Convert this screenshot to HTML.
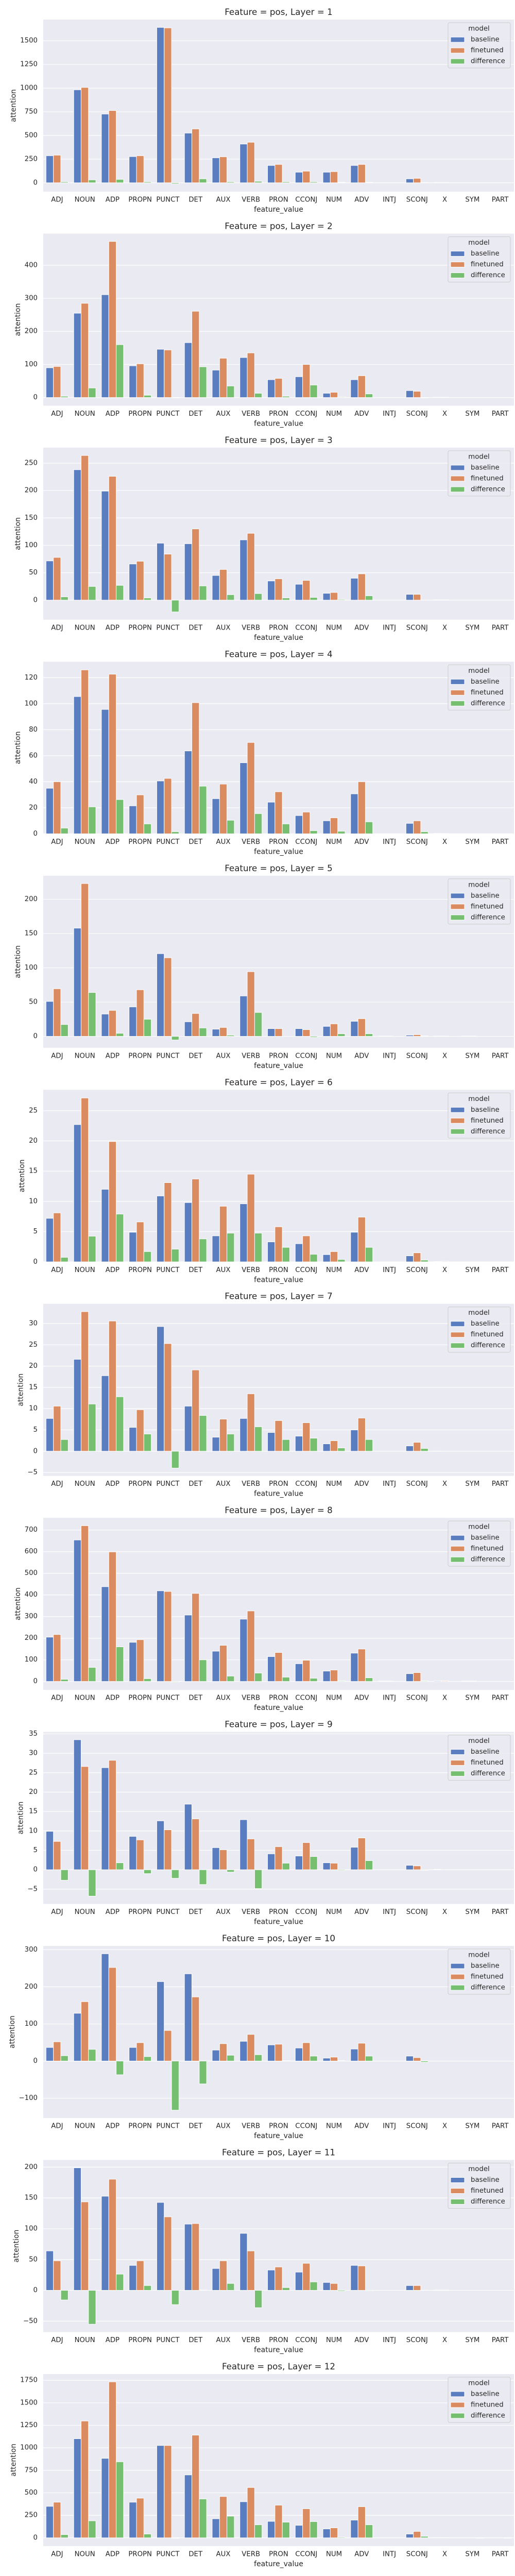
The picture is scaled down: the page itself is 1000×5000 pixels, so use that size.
<!DOCTYPE html>
<html><head><meta charset="utf-8">
<style>
html,body{margin:0;padding:0;background:#fff;}
svg{display:block;font-family:"DejaVu Sans","Liberation Sans",sans-serif;}
</style></head>
<body>
<svg id="fig" width="1000" height="5000" viewBox="0 0 1000 5000" xmlns="http://www.w3.org/2000/svg"></svg>
<script>
const categories = ["ADJ","NOUN","ADP","PROPN","PUNCT","DET","AUX","VERB","PRON","CCONJ","NUM","ADV","INTJ","SCONJ","X","SYM","PART"];
const seriesNames = ["baseline","finetuned","difference"];
const layers = [1,2,3,4,5,6,7,8,9,10,11,12];
const baseline = [
 [286,982,726,277,1641,525,264,409,183,112,112,183,0,42,3,0,0],
 [90,255,311,96,146,166,83,121,54,63,13,54,0,21,1,0,0],
 [71.6,238,199,66,104,103,45,110,35,29,12.5,40,0,10.6,0.5,0,0],
 [35,105.5,95.6,21.5,40.6,63.7,27,54.6,24.3,14,10,30.7,0,8,0.3,0,0],
 [51,158,32.6,43,120.7,21.3,10.5,59,11.3,11.3,14.6,22,0.5,1.8,0.5,0.5,0],
 [7.2,22.7,12.0,4.9,10.9,9.8,4.3,9.6,3.3,3.0,1.2,4.9,0,1.0,0.05,0,0],
 [7.7,21.6,17.75,5.6,29.3,10.6,3.3,7.7,4.4,3.55,1.74,5.0,0,1.25,0.05,0,0],
 [205,654,438,181,419,307,140,288,115,82,48,131,2,36,3,2,0],
 [9.9,33.5,26.3,8.6,12.6,16.9,5.7,12.9,4.1,3.55,1.8,5.8,0,1.15,0.1,0,0],
 [36.6,128.7,289,36.6,214,235,29.6,53.2,43.5,35.2,7.9,32.4,0,13.4,0,0,0],
 [64,198.9,152.8,40.5,142.7,107.5,35.5,92.5,33,29.6,12.8,40.5,0,7.8,0.5,0,0],
 [350,1101,883,396,1026,699,212,401,183,139,99,197,0,42,3,0,0]
];
const finetuned = [
 [292,1007,763,286,1636,569,275,428,194,123,118,194,0,47,3,0,0],
 [94,285,472,102,144,261,119,135,58,100,16,66,0,19,1,0,0],
 [78,264,226,71,84,130,56,122,39,36,14,48,0,10.6,0.5,0,0],
 [40,126,122.7,29.9,42.6,100.8,38.2,70.2,32.3,16.7,12.3,40,0,10,0.2,0,0],
 [69.5,223,37.9,68,114.7,33.4,13,94.4,11.3,9.8,18.3,25.8,0.5,2.5,0.5,0.5,0],
 [8.1,27.1,19.9,6.6,13.1,13.7,9.2,14.5,5.8,4.3,1.7,7.4,0,1.5,0.1,0,0],
 [10.6,32.8,30.6,9.75,25.3,19.1,7.55,13.5,7.2,6.7,2.47,7.8,0,2.1,0,0,0],
 [217,720,599,193,416,407,167,326,134,98,53,150,2,41,3,2,0],
 [7.3,26.6,28.2,7.7,10.3,13.1,5.15,7.95,5.95,7.0,1.7,8.2,0,1.0,0,0,0],
 [51.9,160,252,49.5,82.4,172.7,46.8,71.8,45.4,49.5,10.6,48.1,0,9.3,0,0,0],
 [48,143.6,180.4,48,119.3,108.4,48,64,38,43.9,11.2,39.7,0,7.8,0.5,0,0],
 [396,1298,1733,441,1026,1141,459,559,363,323,111,346,0,71,2,0,0]
];
const difference = [
 [11,31,36,11,-11,42,11,16,11,11,5,5,0,3,0,0,0],
 [4,29,160,7,-1,93,35,13,4,38,2,11,0,-1,0,0,0],
 [6,25,27,4,-21.5,26,10,12,4,5,1.5,8,0,0,0,0,0],
 [4.4,20.7,26.3,7.6,1.6,36.6,10.4,15.5,7.6,2.4,2,9.2,0,1.6,0,0,0],
 [17.3,64,4.5,25,-5.3,12.3,1.8,34.9,0,-1.5,3.8,3.8,0,0.7,0,0,0],
 [0.75,4.25,7.9,1.7,2.1,3.8,4.75,4.75,2.4,1.25,0.4,2.4,0,0.3,0,0,0],
 [2.75,11.1,12.8,4.05,-3.96,8.4,4.05,5.75,2.75,3.07,0.77,2.75,0,0.65,0,0,0],
 [10,65,160,13,-3,100,25,39,20,15,3,17,0,3,0,0,0],
 [-2.7,-6.8,1.8,-1.0,-2.2,-3.8,-0.6,-4.85,1.7,3.4,-0.2,2.35,0,-0.15,0,0,0],
 [14.4,31.5,-37,12,-132.4,-61.6,15.7,17.1,1,13.4,1,13.4,0,-3.2,0,0,0],
 [-15.6,-55,26.3,7.8,-23.2,0.5,11.2,-28.2,4.5,13.7,-1.5,-1,0,0.3,0,0,0],
 [36,189,845,42,-5,432,241,145,174,180,8,145,0,17,0,-4,-4]
];
const yTicks = [
 [0,250,500,750,1000,1250,1500],
 [0,100,200,300,400],
 [0,50,100,150,200,250],
 [0,20,40,60,80,100,120],
 [0,50,100,150,200],
 [0,5,10,15,20,25],
 [-5,0,5,10,15,20,25,30],
 [0,100,200,300,400,500,600,700],
 [-5,0,5,10,15,20,25,30,35],
 [-100,0,100,200,300],
 [-50,0,50,100,150,200],
 [0,250,500,750,1000,1250,1500,1750]
];

const NS="http://www.w3.org/2000/svg";
const svg=document.getElementById('fig');
const colors=["#597dbf","#da8b5f","#76bf71"];
const PL=84, PR=998, PERIOD=415.45;
function mk(tag,attrs,parent,text){const e=document.createElementNS(NS,tag);for(const k in attrs)e.setAttribute(k,attrs[k]);if(text!==undefined)e.textContent=text;parent.appendChild(e);return e;}
function fmt(v){return v<0?"\u2212"+Math.abs(v):String(v);}

layers.forEach((layer,li)=>{
  const titleY=23+PERIOD*li;
  const top=titleY+15, bottom=titleY+349;
  const g=mk('g',{},svg);
  
  
  const all=baseline[li].concat(finetuned[li],difference[li]);
  const dmax=Math.max(...all), dmin=Math.min(...all);
  const lo=Math.min(dmin,0), rng=dmax-lo;
  const ymin= dmin<0 ? dmin-0.05*rng : 0;
  const ymax= dmax+0.05*rng;
  const yS=v=>bottom-(v-ymin)/(ymax-ymin)*(bottom-top);
  const cw=(PR-PL)/categories.length;
  const xS=i=>PL+(i+0.5)*cw;

  const t=mk('text',{x:541,y:titleY,'font-size':16.7,'text-anchor':'middle','dominant-baseline':'central',fill:'#262626'},g,'Feature = pos, Layer = '+layer);
  
  
  const bg=mk('rect',{x:PL,y:top,width:PR-PL,height:bottom-top,fill:'#eaeaf2'},g);
  
  

  let maxW=0;
  yTicks[li].forEach(v=>{
    const y=yS(v);
    const gl=mk('line',{x1:PL,x2:PR,y1:y,y2:y,stroke:'#fff','stroke-width':1.2},g);
    
    
    const s=fmt(v);
    const tl=mk('text',{x:73,y:y,'font-size':13.3,'text-anchor':'end','dominant-baseline':'central',fill:'#262626'},g,s);
    
    
    const w=(s.replace('\u2212','').length)*8.4+(v<0?11:0);
    if(w>maxW)maxW=w;
  });
  const yl=mk('text',{x:0,y:0,'font-size':14,'text-anchor':'middle','dominant-baseline':'central',fill:'#262626',transform:`translate(${73-maxW-13},${(top+bottom)/2}) rotate(-90)`},g,'attention');
  
  

  const series=[baseline[li],finetuned[li],difference[li]];
  const bw=cw*0.8/3;
  series.forEach((vals,si)=>{
    vals.forEach((v,i)=>{
      const x=xS(i)+(si-1)*bw-bw/2;
      const y0=yS(0), y1=yS(v);
      const r=mk('rect',{x:x,y:Math.min(y0,y1),width:bw,height:Math.abs(y1-y0),fill:colors[si],stroke:'#fff','stroke-width':1},g);
      
      
    });
  });

  categories.forEach((c,i)=>{
    const xl=mk('text',{x:xS(i),y:titleY+365,'font-size':13.3,'text-anchor':'middle','dominant-baseline':'central',fill:'#262626'},g,c);
    
    
  });
  const xt=mk('text',{x:541,y:titleY+384,'font-size':14,'text-anchor':'middle','dominant-baseline':'central',fill:'#262626'},g,'feature_value');
  
  

  const lg=mk('g',{},g);
  
  
  mk('rect',{x:870,y:titleY+21,width:121,height:88,rx:3,fill:'#eaeaf2','fill-opacity':0.8,stroke:'#cccccc','stroke-width':1},lg);
  const lt=mk('text',{x:930,y:titleY+33,'font-size':13.3,'text-anchor':'middle','dominant-baseline':'central',fill:'#262626'},lg,'model');
  
  
  seriesNames.forEach((n,si)=>{
    const yy=titleY+54+21*si;
    const e=mk('g',{},lg);
    
    
    mk('rect',{x:875,y:yy-5,width:27,height:10,fill:colors[si],stroke:'#fff','stroke-width':1},e);
    mk('text',{x:914,y:yy,'font-size':13.3,'dominant-baseline':'central',fill:'#262626'},e,n);
  });
});
</script>
</body></html>
